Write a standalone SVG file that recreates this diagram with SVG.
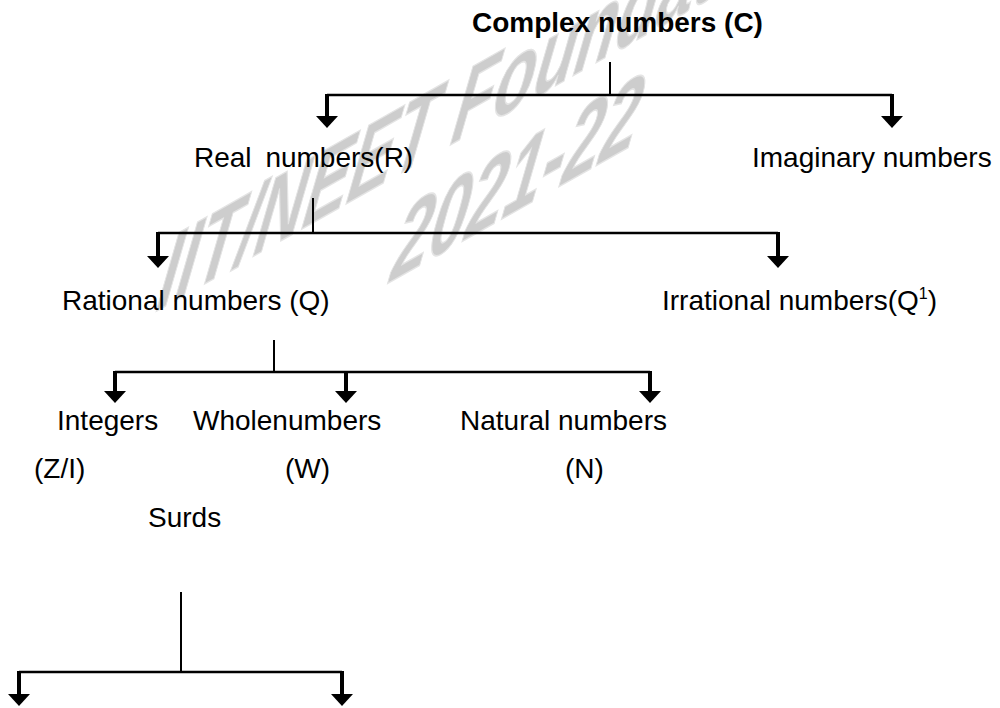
<svg xmlns="http://www.w3.org/2000/svg" width="1000" height="708" viewBox="0 0 1000 708">
  <style>
    .t { font-family: "Liberation Sans", Arial, sans-serif; font-size: 28px; fill: #000; }
    .b { font-weight: bold; }
    .wm { font-family: "Liberation Sans", Arial, sans-serif; font-size: 67px; font-weight: bold; font-style: italic; fill: #cdcdcd; stroke: #e4e4e4; stroke-width: 1; }
    .h { stroke: #000; stroke-width: 2.5; fill: none; }
    .s { stroke: #000; stroke-width: 2; fill: none; }
    .a { stroke: #000; stroke-width: 4; fill: none; marker-end: url(#arr); }
  </style>
  <defs>
    <marker id="arr" markerUnits="userSpaceOnUse" orient="auto" viewBox="0 -11 12 22" markerWidth="12" markerHeight="22" refX="0" refY="0">
      <path d="M0,-11 L12,0 L0,11 Z" fill="#000"/>
    </marker>
  </defs>
  <rect width="1000" height="708" fill="#fff"/>

  <g id="watermark" transform="matrix(1,-0.565,-0.3,1.6,155,312)">
    <text class="wm" x="0" y="0">IIT/NEET Foundation</text>
    <text class="wm" x="255" y="72">2021-22</text>
  </g>

  <g id="connectors">
    <path class="s" d="M610,62 V95"/>
    <path class="h" d="M327,95 H892"/>
    <line class="a" x1="327" y1="94" x2="327" y2="116"/>
    <line class="a" x1="892" y1="94" x2="892" y2="116"/>

    <path class="s" d="M313,198 V233"/>
    <path class="h" d="M158,233 H778"/>
    <line class="a" x1="158" y1="232" x2="158" y2="256"/>
    <line class="a" x1="778" y1="232" x2="778" y2="256"/>

    <path class="s" d="M274,340 V372"/>
    <path class="h" d="M115,372 H650"/>
    <line class="a" x1="115" y1="371" x2="115" y2="391"/>
    <line class="a" x1="346" y1="371" x2="346" y2="391"/>
    <line class="a" x1="650" y1="371" x2="650" y2="391"/>

    <path class="s" d="M181,592 V672"/>
    <path class="h" d="M19,672 H342"/>
    <line class="a" x1="19" y1="671" x2="19" y2="694"/>
    <line class="a" x1="342" y1="671" x2="342" y2="694"/>
  </g>

  <g id="complex"><text class="t b" x="472" y="32">Complex numbers (C)</text></g>
  <g id="real"><text class="t" x="194" y="167">Real <tspan dx="6">numbers(R)</tspan></text></g>
  <g id="imaginary"><text class="t" x="752" y="167">Imaginary numbers</text></g>
  <g id="rational"><text class="t" x="62" y="310">Rational numbers (Q)</text></g>
  <g id="irrational"><text class="t" x="662" y="310">Irrational numbers(Q<tspan font-size="16" dy="-11">1</tspan><tspan dy="11">)</tspan></text></g>
  <g id="integers">
    <text class="t" x="57" y="430">Integers</text>
    <text class="t" x="34" y="478">(Z/I)</text>
  </g>
  <g id="whole">
    <text class="t" x="193" y="430">Wholenumbers</text>
    <text class="t" x="285" y="478">(W)</text>
  </g>
  <g id="natural">
    <text class="t" x="460" y="430">Natural numbers</text>
    <text class="t" x="565" y="478">(N)</text>
  </g>
  <g id="surds"><text class="t" x="148" y="527">Surds</text></g>
</svg>
